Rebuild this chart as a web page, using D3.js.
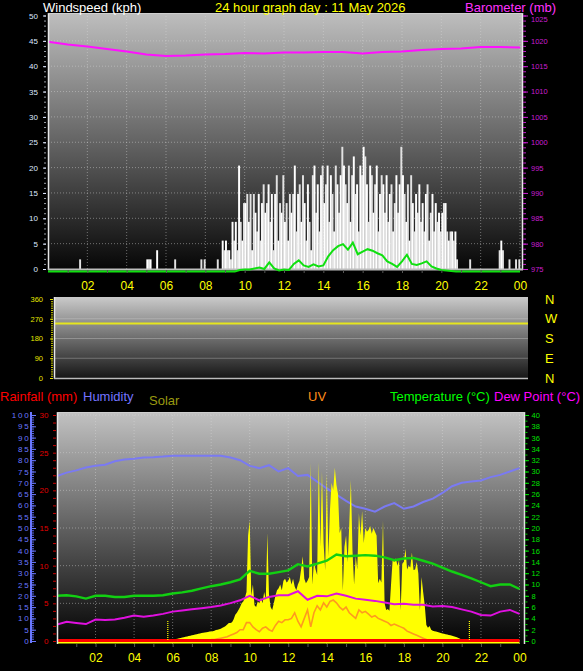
<!DOCTYPE html>
<html><head><meta charset="utf-8">
<script src="https://cdn.jsdelivr.net/npm/d3@7"></script>
<style>
body{margin:0;background:#000;}
svg{display:block;}
</style></head><body>
<svg id="c" width="583" height="671"></svg>
<script>
// ---------------- DATA ----------------
const hourTickValues = [2,4,6,8,10,12,14,16,18,20,22,24];
const hourTickLabels = ["02","04","06","08","10","12","14","16","18","20","22","00"];
const windTicks = [0,5,10,15,20,25,30,35,40,45,50];
const baroTicks = [975,980,985,990,995,1000,1005,1010,1015,1020,1025];
const dirTicks = [0,90,180,270,360];
const compassLabels = ["N","E","S","W","N"]; // for 0,90,180,270,360
const humTicks = [0,5,10,15,20,25,30,35,40,45,50,55,60,65,70,75,80,85,90,95,100];
const rainTicks = [0,5,10,15,20,25,30];
const tempTicks = [0,2,4,6,8,10,12,14,16,18,20,22,24,26,28,30,32,34,36,38,40];

// wind gust, 5-minute values from 00:00 (kph)
const gust = [
 0,0,0,0,0,0,0,0,0,0,0,0,
 0,0,0,0,0,0,0,1.9,0,0,0,0,
 0,0,0,0,0,0,0,0,0,0,0,0,
 0,0,0,0,0,0,0,0,0,0,0,0,
 0,0,0,0,0,0,0,0,0,0,0,0,
 1.9,1.9,1.9,0,0,0,3.7,0,0,0,0,0,
 0,0,0,0,0,1.9,0,0,0,0,0,0,
 0,0,0,0,0,0,0,0,0,1.9,0,1.9,
 0,0,0,0,0,0,0,1.9,0,0,5.6,3.7,
 5.6,3.7,3.7,1.9,9.3,5.6,9.3,3.7,20.4,9.3,5.6,13,
 13,14.8,9.3,14.8,3.7,14.8,11.1,7.4,14.8,5.6,13,16.7,
 11.1,13,16.7,9.3,14.8,3.7,14.8,18.5,5.6,13,11.1,18.5,
 9.3,13,5.6,14.8,11.1,14.8,20.4,7.4,14.8,16.7,9.3,18.5,
 13,5.6,16.7,9.3,3.7,18.5,20.4,11.1,16.7,7.4,18.5,20.4,
 13,16.7,20.4,9.3,18.5,14.8,7.4,20.4,16.7,11.1,18.5,24.1,
 20.4,16.7,13,20.4,9.3,18.5,22.2,14.8,16.7,7.4,20.4,18.5,
 24.1,22.2,16.7,9.3,20.4,18.5,11.1,16.7,20.4,7.4,14.8,18.5,
 16.7,11.1,18.5,9.3,14.8,16.7,7.4,13,18.5,11.1,16.7,24.1,
 18.5,14.8,9.3,16.7,5.6,18.5,13,7.4,14.8,11.1,16.7,9.3,
 13,7.4,14.8,16.7,5.6,11.1,14.8,7.4,13,9.3,11.1,7.4,
 11.1,13,13,7.4,5.6,7.4,7.4,5.6,7.4,1.9,0,0,
 0,0,0,0,0,1.9,0,0,0,0,0,0,
 0,0,0,0,0,0,0,0,0,0,0,3.7,
 5.6,3.7,0,0,0,1.9,0,0,0,1.9,0,1.9
];

// average wind speed (kph)
const avgWindHours = [0,9.5,9.75,10,10.25,10.5,10.75,11,11.25,11.5,11.75,12,12.25,12.5,12.75,13,13.25,13.5,13.75,14,14.25,14.5,14.75,15,15.25,15.5,15.75,16,16.25,16.5,16.75,17,17.25,17.5,17.75,18,18.25,18.5,18.75,19,19.25,19.5,19.75,20,20.25,20.5,20.75,24];
const avgWindValues = [0,0,0.3,0.4,0.4,0.6,0.8,0.5,1.8,0.6,0.2,0.4,0.3,1.5,2.2,1.2,0.9,1.4,1.0,1.2,3.0,4.2,5.0,5.4,4.3,5.7,3.4,3.9,4.4,4.1,3.6,3.2,2.0,1.5,0.9,2.0,3.3,1.5,1.3,1.6,2.0,1.0,0.6,0.3,0.2,0.1,0,0];

// barometer (mb), hourly from 00:00 to 24:00
const barometer = [1019.8,1019.3,1018.9,1018.4,1017.9,1017.3,1017.0,1017.1,1017.3,1017.4,1017.6,1017.5,1017.7,1017.7,1017.8,1017.8,1017.5,1017.8,1017.9,1018.2,1018.4,1018.5,1018.8,1018.8,1018.7];

// wind direction (deg), hourly
const windDir = [248,248,248,248,248,248,248,248,248,248,248,248,248,248,248,248,248,248,248,248,248,248,248,248,248];

// half-hourly from 00:00 to 24:00
const humidity = [73,74.5,75.5,76.8,77.5,78,79.5,80.3,80.6,81.2,81.3,81.6,82,82,82,82,82,82,81.2,80,77.5,76.5,77.8,75,76.5,73,73.5,70.5,67.5,64.8,62,59.5,58.5,57.2,59.5,61,58.5,59.5,61.5,63,65.5,68.5,70,70.6,71,72.5,73.5,75,76.5];
const temperature = [8.0,8.1,7.9,7.5,8.0,8.0,7.8,7.8,8.0,8.0,8.0,8.1,8.4,8.6,8.9,9.3,9.7,10.0,10.4,10.9,12.4,11.9,11.9,12.2,12.5,13.6,13.2,13.7,14.2,15.3,15.0,15.1,15.2,15.1,14.8,14.3,14.6,14.7,14.2,13.7,13.0,12.3,11.7,11.1,10.4,9.7,10.0,10.0,9.2];
const dewPoint = [2.9,3.4,3.2,3.0,3.8,3.7,3.8,4.1,4.5,4.3,4.5,4.8,5.2,5.4,5.6,5.8,6.0,6.3,6.7,7.2,8.0,7.2,7.8,8.1,8.1,8.8,7.3,8.0,7.9,8.4,8.0,7.5,7.3,7.1,6.8,6.5,6.6,6.4,6.4,6.1,6.2,6.0,5.6,5.2,4.6,4.5,5.2,5.5,4.8];

// rainfall (mm), hourly
const rainfall = [0,0,0,0,0,0,0,0,0,0,0,0,0,0,0,0,0,0,0,0,0,0,0,0,0];

// solar radiation (W/m2), 5-minute values from 06:00 to 21:00
const solarStartHour = 6;
const solar = [
 5,8,10,12,14,16,18,20,22,24,26,28,
 30,32,34,36,38,40,42,44,45,46,48,50,
 50,52,55,58,60,62,65,70,75,80,88,95,
 95,100,115,140,150,165,180,200,210,230,260,560,
 640,240,300,190,180,210,200,230,200,260,220,573,
 250,180,165,200,240,270,280,300,270,320,330,310,
 320,340,300,330,290,270,300,320,380,450,330,306,
 320,340,945,300,420,380,350,950,500,900,520,377,
 890,450,700,840,800,920,830,780,573,600,270,500,
 560,420,620,855,480,300,450,380,680,560,690,520,
 600,580,590,610,570,600,580,560,306,330,310,640,
 200,165,170,160,300,430,420,440,400,430,165,410,
 420,490,380,400,390,470,377,380,420,360,165,340,
 260,190,85,70,80,60,55,52,50,48,45,42,
 40,38,36,34,32,30,28,25,22,20,16,12,
 8
];

// UV index, 10-minute values from 08:00
const uvStartHour = 8;
const uv = [
 0.1,0.1,0.15,0.2,0.25,0.3,
 0.4,0.5,0.6,0.8,0.8,1.3,
 1.3,1.0,0.8,0.66,0.9,1.0,
 0.8,0.7,1.1,1.4,1.3,1.5,
 1.5,1.6,2.0,1.4,1.0,1.6,
 2.2,1.0,2.0,2.5,2.2,2.7,
 2.4,2.8,2.9,2.7,2.4,2.2,
 2.4,2.0,1.8,1.6,2.2,2.0,
 2.1,1.9,1.7,1.8,1.6,1.5,
 1.4,1.3,1.1,1.2,1.1,1.0,
 0.9,0.7,0.6,0.5,0.4,0.3,
 0.2,0.1,0
];

// sunrise / sunset markers (hours)
const sunEvents = [5.75, 21.4];

// ---------------- DRAWING ----------------
const FONT = '"Liberation Sans", Arial, sans-serif';
const svg = d3.select("#c");
const defs = svg.append("defs");

function vgrad(id, stops) {
  const g = defs.append("linearGradient").attr("id", id)
    .attr("x1", 0).attr("y1", 0).attr("x2", 0).attr("y2", 1);
  stops.forEach(s => g.append("stop").attr("offset", s[0]).attr("stop-color", s[1]));
}
vgrad("gTop", [[0, "#bebebe"], [0.5, "#646464"], [1, "#060606"]]);
vgrad("gDir", [[0, "#cacaca"], [0.5, "#6e6e6e"], [1, "#141414"]]);
vgrad("gBot", [[0, "#c2c2c2"], [0.5, "#606060"], [1, "#020202"]]);

function clip(id, x, y, w, h) {
  defs.append("clipPath").attr("id", id).append("rect")
    .attr("x", x).attr("y", y).attr("width", w).attr("height", h);
}
function styleAxis(g, color, fs) {
  g.select(".domain").remove();
  g.selectAll(".tick line").attr("stroke", color);
  g.selectAll(".tick text").attr("fill", color).attr("font-size", fs).attr("font-family", FONT);
  return g;
}
function txt(x, y, s, color, size) {
  return svg.append("text").attr("x", x).attr("y", y).text(s)
    .attr("fill", color).attr("font-size", size).attr("font-family", FONT);
}
const gridStyle = sel => sel.attr("stroke", "#dadada").attr("stroke-opacity", 0.45)
  .attr("stroke-dasharray", "1,2").attr("stroke-width", 1);
const intFmt = d3.format("d");

// ===== TOP PANEL: wind speed + barometer =====
const T = {l: 48, r: 523, t: 13, b: 270};
const xT = d3.scaleLinear().domain([0, 24]).range([48, 520]);
const yW = d3.scaleLinear().domain([0, 50]).range([269, 15.5]);
const yB = d3.scaleLinear().domain([975, 1025]).range([269, 15.5]);
clip("cTop", T.l, T.t, T.r - T.l, T.b - T.t);
clip("cTopLow", T.l, T.t, T.r - T.l, T.b - T.t + 4);

svg.append("rect").attr("x", T.l).attr("y", T.t).attr("width", T.r - T.l).attr("height", T.b - T.t)
  .attr("fill", "url(#gTop)");
const gTop = svg.append("g").attr("clip-path", "url(#cTop)");
gTop.selectAll("line.hg").data(windTicks.slice(1, -1)).join("line")
  .attr("x1", T.l).attr("x2", T.r).attr("y1", d => yW(d)).attr("y2", d => yW(d)).call(gridStyle);
gTop.selectAll("line.vg").data(hourTickValues).join("line")
  .attr("x1", d => xT(d)).attr("x2", d => xT(d)).attr("y1", T.t).attr("y2", T.b).call(gridStyle);

const step5 = 1 / 12;
gTop.selectAll("rect.gust").data(gust).join("rect")
  .attr("x", (d, i) => xT(i * step5))
  .attr("width", (d, i) => xT((i + 1) * step5) - xT(i * step5) + 0.3)
  .attr("y", d => yW(d))
  .attr("height", d => yW(0) - yW(d))
  .attr("fill", (d, i) => i % 2 ? "#e2e2e2" : "#ffffff");

gTop.append("path").datum(barometer)
  .attr("d", d3.line().x((d, i) => xT(i)).y(d => yB(d)))
  .attr("fill", "none").attr("stroke", "#ff10ff").attr("stroke-width", 2);

// plot border
svg.append("line").attr("x1", T.l + 0.5).attr("x2", T.l + 0.5).attr("y1", T.t).attr("y2", T.b).attr("stroke", "#e8e8e8").attr("stroke-width", 1.5);
svg.append("line").attr("x1", T.r - 0.5).attr("x2", T.r - 0.5).attr("y1", T.t).attr("y2", T.b).attr("stroke", "#e8e8e8").attr("stroke-width", 1.5);
svg.append("line").attr("x1", T.l).attr("x2", T.r).attr("y1", T.t + 0.5).attr("y2", T.t + 0.5).attr("stroke", "#cfcfcf");
svg.append("line").attr("x1", T.l).attr("x2", T.r).attr("y1", yW(0) + 0.5).attr("y2", yW(0) + 0.5).attr("stroke", "#bdbdbd").attr("stroke-width", 2);

// average wind line (drawn just under the zero line, as in the source)
const avgWind = avgWindHours.map((h, i) => [h, avgWindValues[i]]);
svg.append("g").attr("clip-path", "url(#cTopLow)").append("path").datum(avgWind)
  .attr("transform", "translate(0,2.5)")
  .attr("d", d3.line().x(d => xT(d[0])).y(d => yW(d[1])))
  .attr("fill", "none").attr("stroke", "#10e010").attr("stroke-width", 2);

// left wind axis
svg.append("g").attr("transform", "translate(46,0)")
  .call(d3.axisLeft(yW).tickValues(d3.range(0, 51, 1)).tickSize(2).tickFormat(""))
  .call(g => styleAxis(g, "#9aa0a8", 8));
svg.append("g").attr("transform", "translate(46,0)")
  .call(d3.axisLeft(yW).tickValues(windTicks).tickSize(3).tickPadding(5))
  .call(g => styleAxis(g, "#dfe8ff", 8));
// right barometer axis
svg.append("g").attr("transform", `translate(${T.r},0)`)
  .call(d3.axisRight(yB).tickValues(d3.range(975, 1026, 1)).tickSize(3).tickFormat(""))
  .call(g => styleAxis(g, "#c020c8", 8));
svg.append("g").attr("transform", `translate(${T.r},0)`)
  .call(d3.axisRight(yB).tickValues(baroTicks).tickSize(5).tickPadding(3).tickFormat(intFmt))
  .call(g => styleAxis(g, "#c81ed0", 7.5))
  .call(g => g.selectAll(".tick text").filter(d => d === 1025).attr("dy", "0.78em"));
// bottom hour axis
svg.append("g").attr("transform", `translate(0,${T.b})`)
  .call(d3.axisBottom(xT).tickValues(d3.range(1, 24, 1)).tickSize(3).tickFormat(""))
  .call(g => styleAxis(g, "#555", 8));
svg.append("g").attr("transform", `translate(0,${T.b})`)
  .call(d3.axisBottom(xT).tickValues(hourTickValues).tickSize(0).tickPadding(11.5)
    .tickFormat((d, i) => hourTickLabels[i]))
  .call(g => styleAxis(g, "#ffff00", 12));

txt(43, 11.8, "Windspeed (kph)", "#ffffff", 13);
txt(215, 11.8, "24 hour graph day : 11 May 2026", "#ffff00", 13);
txt(465, 11.8, "Barometer (mb)", "#ff33ff", 13);

// ===== WIND DIRECTION PANEL =====
const D = {l: 54, r: 528, t: 297, b: 379};
const xD = d3.scaleLinear().domain([0, 24]).range([55, 528]);
const yD = d3.scaleLinear().domain([0, 360]).range([378, 299]);
clip("cDir", D.l, D.t, D.r - D.l, D.b - D.t);
svg.append("rect").attr("x", D.l).attr("y", D.t).attr("width", D.r - D.l).attr("height", D.b - D.t)
  .attr("fill", "url(#gDir)");
const gDir = svg.append("g").attr("clip-path", "url(#cDir)");
gDir.selectAll("line.hg").data(dirTicks.slice(1, -1)).join("line")
  .attr("x1", D.l).attr("x2", D.r).attr("y1", d => yD(d)).attr("y2", d => yD(d))
  .attr("stroke", "#d8d8d8").attr("stroke-opacity", 0.35);
gDir.append("path").datum(windDir)
  .attr("d", d3.line().x((d, i) => xD(i)).y(d => yD(d)))
  .attr("fill", "none").attr("stroke", "#e6e61e").attr("stroke-width", 2);
svg.append("line").attr("x1", D.l + 0.5).attr("x2", D.l + 0.5).attr("y1", D.t).attr("y2", D.b).attr("stroke", "#e8e8e8").attr("stroke-width", 1.5);
svg.append("line").attr("x1", D.l).attr("x2", D.r).attr("y1", D.b - 0.5).attr("y2", D.b - 0.5).attr("stroke", "#bbbbbb").attr("stroke-width", 1.5);

svg.append("g").attr("transform", "translate(53,0)")
  .call(d3.axisLeft(yD).tickValues(d3.range(0, 361, 10)).tickSize(2).tickFormat(""))
  .call(g => styleAxis(g, "#c8c800", 8));
svg.append("g").attr("transform", "translate(53,0)")
  .call(d3.axisLeft(yD).tickValues(dirTicks).tickSize(3).tickPadding(7))
  .call(g => styleAxis(g, "#e6e600", 7.5));
svg.selectAll("text.compass").data(dirTicks).join("text")
  .attr("x", 545).attr("y", d => yD(d)).attr("dy", "0.36em")
  .text((d, i) => compassLabels[i])
  .attr("fill", "#ffff00").attr("font-size", 13).attr("font-family", FONT);

// ===== BOTTOM PANEL =====
const B = {l: 57, r: 525, t: 412, b: 644};
const xS = d3.scaleLinear().domain([0, 24]).range([57, 519.5]);
const yH = d3.scaleLinear().domain([0, 100]).range([641, 415]);
const yR = d3.scaleLinear().domain([0, 30]).range([641, 415]);
const yT = d3.scaleLinear().domain([0, 40]).range([641, 415]);
const ySol = d3.scaleLinear().domain([0, 1200]).range([641, 415]);
const yUV = d3.scaleLinear().domain([0, 16]).range([641, 415]);
clip("cBot", B.l, B.t, B.r - B.l, B.b - B.t);
svg.append("rect").attr("x", B.l).attr("y", B.t).attr("width", B.r - B.l).attr("height", B.b - B.t)
  .attr("fill", "url(#gBot)");
const gBot = svg.append("g").attr("clip-path", "url(#cBot)");
gBot.selectAll("line.hg").data(rainTicks.slice(1)).join("line")
  .attr("x1", B.l).attr("x2", B.r).attr("y1", d => yR(d)).attr("y2", d => yR(d)).call(gridStyle);
gBot.selectAll("line.vg").data(hourTickValues).join("line")
  .attr("x1", d => xS(d)).attr("x2", d => xS(d)).attr("y1", B.t).attr("y2", B.b).call(gridStyle);

const half = 0.5;
gBot.append("path").datum(humidity)
  .attr("d", d3.line().x((d, i) => xS(i * half)).y(d => yH(d)))
  .attr("fill", "none").attr("stroke", "#7a7af2").attr("stroke-width", 2);

// solar area
gBot.append("path").datum(solar)
  .attr("d", d3.area().x((d, i) => xS(solarStartHour + i * step5)).y0(ySol(0)).y1(d => ySol(d)))
  .attr("fill", "#ffff00");
gBot.append("path").datum([[0, 0], [24, 0]])
  .attr("transform", "translate(0,1.5)")
  .attr("d", d3.line().x(d => xS(d[0])).y(d => ySol(d[1])))
  .attr("fill", "none").attr("stroke", "#ffff00").attr("stroke-width", 2);

// UV
gBot.append("path").datum(uv)
  .attr("d", d3.line().x((d, i) => xS(uvStartHour + i / 6)).y(d => yUV(d)))
  .attr("fill", "none").attr("stroke", "#ff9a1e").attr("stroke-width", 1.6);

// temperature + dew point
gBot.append("path").datum(temperature)
  .attr("d", d3.line().x((d, i) => xS(i * half)).y(d => yT(d)))
  .attr("fill", "none").attr("stroke", "#12d012").attr("stroke-width", 2.4);
gBot.append("path").datum(dewPoint)
  .attr("d", d3.line().x((d, i) => xS(i * half)).y(d => yT(d)))
  .attr("fill", "none").attr("stroke", "#e010e0").attr("stroke-width", 2);

// rainfall
gBot.append("path").datum(rainfall)
  .attr("d", d3.line().x((d, i) => xS(i)).y(d => yR(d) - 0.5))
  .attr("fill", "none").attr("stroke", "#ff0000").attr("stroke-width", 3);

// sunrise / sunset markers
gBot.selectAll("line.sun").data(sunEvents).join("line")
  .attr("x1", d => xS(d)).attr("x2", d => xS(d))
  .attr("y1", yR(0) - 20).attr("y2", yR(0))
  .attr("stroke", "#ffff00").attr("stroke-width", 1.2).attr("stroke-dasharray", "1,1");

svg.append("line").attr("x1", B.l + 0.5).attr("x2", B.l + 0.5).attr("y1", B.t).attr("y2", B.b).attr("stroke", "#e8e8e8").attr("stroke-width", 1.5);
svg.append("line").attr("x1", B.r - 0.5).attr("x2", B.r - 0.5).attr("y1", B.t).attr("y2", B.b).attr("stroke", "#e0e0e0").attr("stroke-width", 1.5);
svg.append("line").attr("x1", B.l).attr("x2", B.r).attr("y1", B.t + 0.5).attr("y2", B.t + 0.5).attr("stroke", "#cfcfcf");

// humidity axis
svg.append("line").attr("x1", 31).attr("x2", 31).attr("y1", 412).attr("y2", 643)
  .attr("stroke", "#6a78ff").attr("stroke-width", 2);
svg.append("g").attr("transform", "translate(32,0)")
  .call(d3.axisRight(yH).tickValues(d3.range(0, 101, 1)).tickSize(2).tickFormat(""))
  .call(g => styleAxis(g, "#5c6af0", 8));
svg.append("g").attr("transform", "translate(32,0)")
  .call(d3.axisRight(yH).tickValues(humTicks).tickSize(4).tickFormat(""))
  .call(g => styleAxis(g, "#6a78ff", 8));
svg.append("g").attr("transform", "translate(31.5,0)")
  .call(d3.axisLeft(yH).tickValues(humTicks).tickSize(0).tickPadding(1))
  .call(g => styleAxis(g, "#6a78ff", 8))
  .call(g => g.selectAll(".tick text").attr("letter-spacing", 1.8));
// rain axis
svg.append("g").attr("transform", "translate(56,0)")
  .call(d3.axisLeft(yR).tickValues(d3.range(0, 31, 1)).tickSize(3).tickFormat(""))
  .call(g => styleAxis(g, "#d00000", 8));
svg.append("g").attr("transform", "translate(50,0)")
  .call(d3.axisLeft(yR).tickValues(rainTicks).tickSize(0).tickPadding(1.5))
  .call(g => styleAxis(g, "#e00000", 8));
// temperature axis
svg.append("g").attr("transform", `translate(${B.r},0)`)
  .call(d3.axisRight(yT).tickValues(d3.range(0, 40.5, 1)).tickSize(2.5).tickFormat(""))
  .call(g => styleAxis(g, "#00c000", 8));
svg.append("g").attr("transform", `translate(${B.r},0)`)
  .call(d3.axisRight(yT).tickValues(tempTicks).tickSize(4).tickPadding(2.5))
  .call(g => styleAxis(g, "#00e000", 7.5));
// hours
svg.append("g").attr("transform", `translate(0,${B.b})`)
  .call(d3.axisBottom(xS).tickValues(d3.range(1, 24, 1)).tickSize(3).tickFormat(""))
  .call(g => styleAxis(g, "#555", 8));
svg.append("g").attr("transform", `translate(0,${B.b})`)
  .call(d3.axisBottom(xS).tickValues(hourTickValues).tickSize(0).tickPadding(9.5)
    .tickFormat((d, i) => hourTickLabels[i]))
  .call(g => styleAxis(g, "#ffff00", 12));

// legend titles
txt(0, 401, "Rainfall (mm)", "#ff0000", 13);
txt(83, 401, "Humidity", "#7474ff", 13);
txt(149, 405, "Solar", "#9a9a10", 13);
txt(308, 401, "UV", "#ff8c1a", 13);
txt(390, 401, "Temperature (°C)", "#00ff00", 13);
txt(494, 401, "Dew Point (°C)", "#ff00ff", 13);
</script>
</body></html>
